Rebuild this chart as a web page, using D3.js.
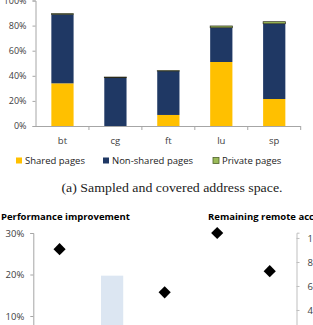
<!DOCTYPE html>
<html>
<head>
<meta charset="utf-8">
<script src="https://cdn.jsdelivr.net/npm/d3@7"></script>
<style>
  body { margin: 0; background: #fff; }
  svg { display: block; }
  .tick text { font-family: "Open Sans", sans-serif; fill: #404040; }
</style>
</head>
<body>
<div id="chart"></div>
<script>
// top chart data
const categories = ["bt", "cg", "ft", "lu", "sp"];
const sharedPages = [0.34, 0.0, 0.088, 0.51, 0.215];
const nonSharedPages = [0.55, 0.385, 0.35, 0.273, 0.60];
const privatePages = [0.005, 0.005, 0.003, 0.014, 0.016];
const pctTicks = [0, 0.2, 0.4, 0.6, 0.8, 1.0];
const seriesNames = ["Shared pages", "Non-shared pages", "Private pages"];

// bottom chart data (only the visible part)
const perfImprovement = [26.1, null, 15.7, 30.0, 20.8];   // diamonds, left axis
const remoteAccesses = [null, 68.6, null, null, null];    // bars, right axis
const leftTicks = [10, 20, 30];
const rightTicks = [40, 60, 80, 100];

const W = 313, H = 325;
const svg = d3.select("#chart").append("svg")
    .attr("width", W)
    .attr("height", H);

const color = d3.scaleOrdinal()
    .domain(seriesNames)
    .range(["#FFC000", "#1F3864", "#9BBB59"]);

// ---------- top chart ----------
const x0 = d3.scaleBand()
    .domain(categories)
    .range([36, 300.7]);

const y = d3.scaleLinear()
    .domain([0, 1])
    .range([126, 0.5]);

const yAxis = svg.append("g")
    .attr("transform", "translate(35.5,0)")
    .call(d3.axisLeft(y).tickValues(pctTicks).tickFormat(d3.format(".0%")).tickSize(3).tickPadding(6));
yAxis.selectAll("text").style("font-size", "9px");
yAxis.selectAll("line, path").attr("stroke", "#a6a6a6");

// x axis with ticks at band edges
const xAxisG = svg.append("g");
xAxisG.append("line")
    .attr("x1", x0.range()[0]).attr("x2", x0.range()[1])
    .attr("y1", y(0) + 0.5).attr("y2", y(0) + 0.5)
    .attr("stroke", "#a6a6a6");
xAxisG.selectAll("line.edge")
    .data(categories.map(c => x0(c) + x0.bandwidth()))
    .join("line")
    .attr("class", "edge")
    .attr("x1", d => d).attr("x2", d => d)
    .attr("y1", y(0)).attr("y2", y(0) + 4)
    .attr("stroke", "#a6a6a6");
xAxisG.selectAll("text")
    .data(categories)
    .join("text")
    .attr("x", d => x0(d) + x0.bandwidth() / 2)
    .attr("y", 144)
    .attr("text-anchor", "middle")
    .style("font-family", "Open Sans, sans-serif")
    .style("font-size", "9.5px")
    .attr("fill", "#404040")
    .text(d => d);

// stacked bars
const rows = categories.map((c, i) => ({
    cat: c,
    "Shared pages": sharedPages[i],
    "Non-shared pages": nonSharedPages[i],
    "Private pages": privatePages[i]
}));
const stacked = d3.stack().keys(seriesNames)(rows);
const barW = x0.bandwidth() * 0.42;

svg.append("g").selectAll("g")
    .data(stacked)
    .join("g")
    .attr("fill", d => color(d.key))
    .attr("stroke", d => d.key === "Private pages" ? "#2a2a1a" : "none")
    .attr("stroke-width", 0.7)
    .selectAll("rect")
    .data(d => d)
    .join("rect")
    .attr("x", d => x0(d.data.cat) + (x0.bandwidth() - barW) / 2)
    .attr("y", d => y(d[1]))
    .attr("width", barW)
    .attr("height", d => y(d[0]) - y(d[1]));

// legend
const legendX = [16, 103, 213];
const legend = svg.append("g");
seriesNames.forEach((name, i) => {
    legend.append("rect")
        .attr("x", legendX[i]).attr("y", 157.5)
        .attr("width", 6).attr("height", 6)
        .attr("fill", color(name))
        .attr("stroke", name === "Private pages" ? "#4F6228" : "none")
        .attr("stroke-width", 0.8);
    legend.append("text")
        .attr("x", legendX[i] + 9).attr("y", 164)
        .style("font-family", "Open Sans, sans-serif")
        .style("font-size", "9.5px")
        .attr("fill", "#222")
        .text(name);
});

// caption
svg.append("text")
    .attr("x", 172).attr("y", 192)
    .attr("text-anchor", "middle")
    .attr("textLength", 221)
    .attr("lengthAdjust", "spacingAndGlyphs")
    .style("font-family", "Liberation Serif, serif")
    .style("font-size", "12.5px")
    .attr("fill", "#222")
    .text("(a) Sampled and covered address space.");

// ---------- bottom chart ----------
const xb = d3.scaleBand()
    .domain(categories)
    .range([33.3, 296]);

const yL = d3.scaleLinear()
    .domain([0, 30])
    .range([357.5, 233]);

const yR = d3.scaleLinear()
    .domain([0, 104.4])
    .range([358, 232.7]);

// bars (right axis)
svg.append("g").selectAll("rect")
    .data(categories.map((c, i) => ({ cat: c, v: remoteAccesses[i] })).filter(d => d.v != null))
    .join("rect")
    .attr("x", d => xb(d.cat) + (xb.bandwidth() - barW) / 2)
    .attr("y", d => yR(d.v))
    .attr("width", barW)
    .attr("height", d => yR(0) - yR(d.v))
    .attr("fill", "#DCE6F2");

const lAxis = svg.append("g")
    .attr("transform", "translate(33.3,0)")
    .call(d3.axisLeft(yL).tickValues(leftTicks).tickFormat(d => d + "%").tickSize(3).tickPadding(6));
lAxis.selectAll("text").style("font-size", "9.5px");
lAxis.selectAll("line, path").attr("stroke", "#a6a6a6");

const rAxis = svg.append("g")
    .attr("transform", "translate(296.5,0)")
    .call(d3.axisRight(yR).tickValues(rightTicks).tickFormat(d => d + "%").tickSize(3).tickPadding(8));
rAxis.selectAll("text").style("font-size", "9.5px");
rAxis.selectAll("line, path").attr("stroke", "#bfbfbf");

// diamonds (left axis)
svg.append("g").selectAll("path")
    .data(categories.map((c, i) => ({ cat: c, v: perfImprovement[i] })).filter(d => d.v != null))
    .join("path")
    .attr("d", d3.symbol(d3.symbolSquare, 74))
    .attr("transform", d => `translate(${xb(d.cat) + xb.bandwidth() / 2},${yL(d.v)}) rotate(45)`)
    .attr("fill", "#000");

// axis titles
svg.append("text")
    .attr("x", 1).attr("y", 220)
    .style("font-family", "Open Sans, sans-serif")
    .style("font-size", "9.5px")
    .style("font-weight", "bold")
    .text("Performance improvement");

svg.append("text")
    .attr("x", 208).attr("y", 220)
    .style("font-family", "Open Sans, sans-serif")
    .style("font-size", "9.5px")
    .style("font-weight", "bold")
    .text("Remaining remote accesses");
</script>
</body>
</html>
